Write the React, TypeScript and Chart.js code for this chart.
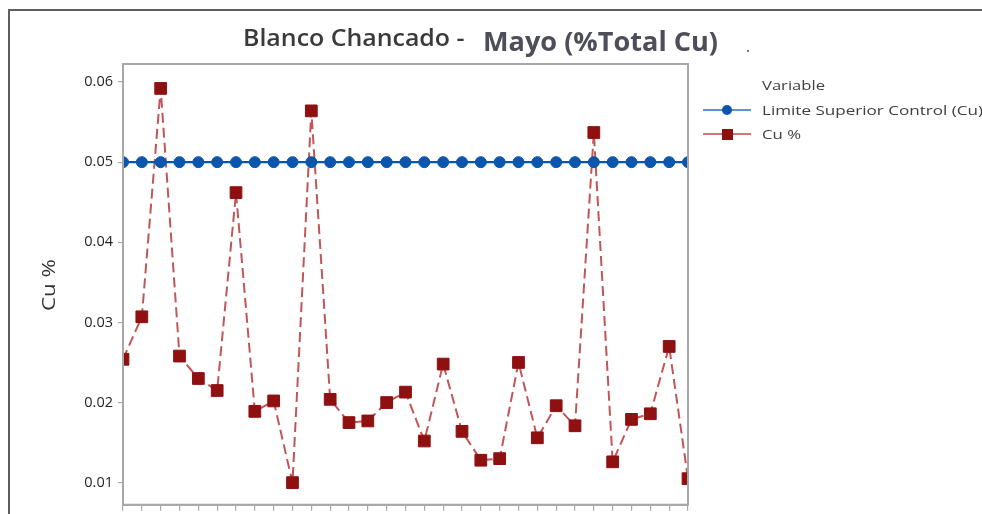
import React, { useEffect, useRef } from "react";
import { Chart, registerables } from "chart.js";

Chart.register(...registerables);

// ---- Data ----
const days = [
  "1", "2", "3", "4", "5", "6", "7", "8", "9", "10",
  "11", "12", "13", "14", "15", "16", "17", "18", "19", "20",
  "21", "22", "23", "24", "25", "26", "27", "28", "29", "30", "31",
];
const limiteSuperior = [
  0.05, 0.05, 0.05, 0.05, 0.05, 0.05, 0.05, 0.05, 0.05, 0.05,
  0.05, 0.05, 0.05, 0.05, 0.05, 0.05, 0.05, 0.05, 0.05, 0.05,
  0.05, 0.05, 0.05, 0.05, 0.05, 0.05, 0.05, 0.05, 0.05, 0.05, 0.05,
];
const cuPercent = [
  0.0254, 0.0307, 0.0592, 0.0258, 0.0230, 0.0215, 0.0462, 0.0189, 0.0202, 0.0100,
  0.0564, 0.0204, 0.0175, 0.0177, 0.0200, 0.0213, 0.0152, 0.0248, 0.0164, 0.0128,
  0.0130, 0.0250, 0.0156, 0.0196, 0.0171, 0.0537, 0.0126, 0.0179, 0.0186, 0.0270, 0.0105,
];
const yTickValues = [0.01, 0.02, 0.03, 0.04, 0.05, 0.06];
const yMin = 0.00725;
const yMax = 0.06225;

const titleMain = "Blanco Chancado - ";
const titleSub = "Mayo (%Total Cu)";
const legendTitle = "Variable";
const seriesNames = ["Limite Superior Control (Cu)", "Cu %"];
const yAxisTitle = "Cu %";

const BLUE = "#0b56ad";
const RED_MARK = "#8f1010";
const RED_LINE = "#c25656";
const AXIS_GREY = "#a8a8a8";

function fitText(
  ctx: CanvasRenderingContext2D,
  text: string,
  x: number,
  y: number,
  width: number,
  font: string,
  color: string
) {
  ctx.save();
  ctx.font = font;
  ctx.fillStyle = color;
  ctx.textAlign = "left";
  ctx.textBaseline = "alphabetic";
  const w = ctx.measureText(text).width || 1;
  ctx.translate(x, y);
  ctx.scale(width / w, 1);
  ctx.fillText(text, 0, 0);
  ctx.restore();
}

const decorPlugin = {
  id: "decor",
  beforeDraw(chart: any) {
    const ctx: CanvasRenderingContext2D = chart.ctx;
    ctx.save();
    ctx.fillStyle = "#ffffff";
    ctx.fillRect(0, 0, chart.width, chart.height);
    // outer frame
    ctx.strokeStyle = "#5e5e5e";
    ctx.lineWidth = 2;
    ctx.beginPath();
    ctx.moveTo(9, chart.height);
    ctx.lineTo(9, 10);
    ctx.lineTo(chart.width, 10);
    ctx.stroke();
    ctx.restore();
  },
  afterDraw(chart: any) {
    const ctx: CanvasRenderingContext2D = chart.ctx;
    const a = chart.chartArea;
    // plot frame
    ctx.save();
    ctx.strokeStyle = AXIS_GREY;
    ctx.lineWidth = 2;
    ctx.strokeRect(a.left, a.top, a.right - a.left, a.bottom - a.top);
    ctx.restore();

    // title
    fitText(ctx, titleMain, 243, 45.5, 228, "600 24px 'Open Sans'", "#3a3a3a");
    fitText(ctx, titleSub, 483, 50.5, 235, "bold 26px 'Open Sans'", "#4e4e5a");
    ctx.save();
    ctx.fillStyle = "#777";
    ctx.fillRect(747, 50, 2, 2);
    ctx.restore();

    // y axis title
    ctx.save();
    ctx.translate(55, 311);
    ctx.rotate(-Math.PI / 2);
    fitText(ctx, yAxisTitle, 0, 0, 52, "19px 'Open Sans'", "#333333");
    ctx.restore();

    // legend
    fitText(ctx, legendTitle, 762, 90, 63, "13px 'Open Sans'", "#404040");
    ctx.save();
    ctx.lineWidth = 1.5;
    ctx.strokeStyle = "#2f6cc0";
    ctx.beginPath();
    ctx.moveTo(703, 110);
    ctx.lineTo(751, 110);
    ctx.stroke();
    ctx.fillStyle = BLUE;
    ctx.beginPath();
    ctx.arc(727, 110, 5, 0, Math.PI * 2);
    ctx.fill();
    ctx.strokeStyle = "#c04848";
    ctx.beginPath();
    ctx.moveTo(703, 134);
    ctx.lineTo(751, 134);
    ctx.stroke();
    ctx.fillStyle = RED_MARK;
    ctx.fillRect(722, 129, 11, 11);
    ctx.restore();
    fitText(ctx, seriesNames[0], 762, 114.5, 221, "13px 'Open Sans'", "#404040");
    fitText(ctx, seriesNames[1], 762, 138.5, 39, "13px 'Open Sans'", "#404040");
  },
};

export default function App() {
  const canvasRef = useRef<HTMLCanvasElement | null>(null);

  useEffect(() => {
    const canvas = canvasRef.current;
    if (!canvas) return;
    const chart = new Chart(canvas, {
      type: "line",
      data: {
        labels: days,
        datasets: [
          {
            label: seriesNames[0],
            data: limiteSuperior,
            borderColor: BLUE,
            backgroundColor: BLUE,
            borderWidth: 2.2,
            pointStyle: "circle",
            pointRadius: 5.5,
            pointBorderWidth: 1,
            pointBackgroundColor: BLUE,
            pointBorderColor: BLUE,
            tension: 0,
            clip: 0,
          },
          {
            label: seriesNames[1],
            data: cuPercent,
            borderColor: RED_LINE,
            backgroundColor: RED_MARK,
            borderWidth: 2,
            borderDash: [10, 5],
            pointStyle: "rect",
            pointRadius: 8.3,
            pointBorderWidth: 1,
            pointBackgroundColor: RED_MARK,
            pointBorderColor: RED_MARK,
            tension: 0,
            clip: 0,
          },
        ],
      },
      plugins: [decorPlugin],
      options: {
        responsive: false,
        animation: false,
        devicePixelRatio: 1,
        layout: { padding: { left: 0, right: 294, top: 64, bottom: 0 } },
        plugins: {
          legend: { display: false },
          title: { display: false },
          tooltip: { enabled: false },
        },
        scales: {
          x: {
            type: "category",
            offset: false,
            grid: {
              display: true,
              offset: false,
              drawOnChartArea: false,
              drawTicks: true,
              tickLength: 6,
              color: AXIS_GREY,
              lineWidth: 1.2,
            },
            border: { display: true, color: AXIS_GREY, width: 2 },
            ticks: { display: false, autoSkip: false },
            afterFit: (s: any) => {
              s.height = 9;
              s.paddingLeft = 0;
              s.paddingRight = 0;
            },
          },
          y: {
            type: "linear",
            min: yMin,
            max: yMax,
            afterBuildTicks: (s: any) => {
              s.ticks = yTickValues.map((v) => ({ value: v }));
            },
            ticks: {
              includeBounds: false,
              autoSkip: false,
              padding: 5,
              color: "#262626",
              font: { family: "'Open Sans'", size: 14.5 },
              callback: (v: any) => Number(v).toFixed(2),
            },
            grid: {
              display: true,
              drawOnChartArea: false,
              drawTicks: true,
              tickLength: 5,
              color: AXIS_GREY,
              lineWidth: 1.2,
            },
            border: { display: true, color: AXIS_GREY, width: 2 },
            afterFit: (s: any) => {
              s.width = 123;
              s.paddingTop = 0;
              s.paddingBottom = 0;
            },
          },
        },
      },
    } as any);
    return () => chart.destroy();
  }, []);

  return (
    <div style={{ position: "fixed", left: 0, top: 0, width: 982, height: 514, background: "#fff" }}>
      <canvas ref={canvasRef} width={982} height={514} style={{ width: 982, height: 514, display: "block" }} />
    </div>
  );
}
